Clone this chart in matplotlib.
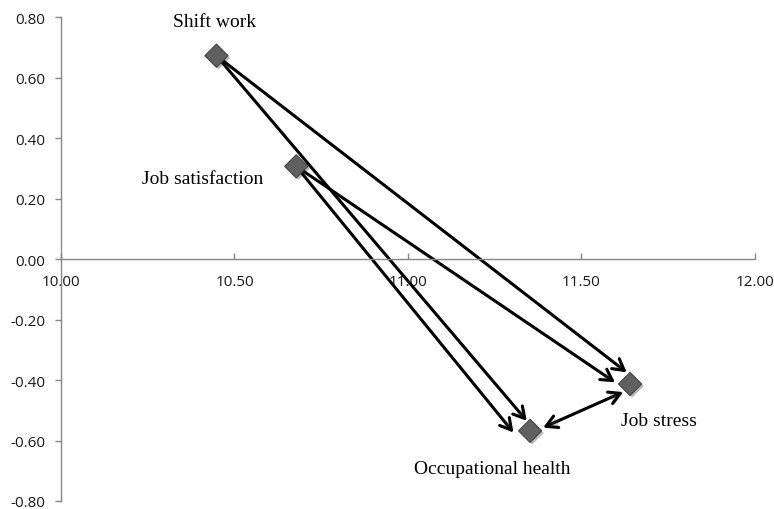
import matplotlib

matplotlib.use("Agg")
import matplotlib.pyplot as plt
import matplotlib.patheffects as pe
from matplotlib.transforms import offset_copy

# node positions
names = ["Shift work", "Job satisfaction", "Occupational health", "Job stress"]
x_vals = [10.448, 10.678, 11.352, 11.640]
y_vals = [0.673, 0.307, -0.568, -0.413]

# label offsets in points (dx, dy) and horizontal alignment
label_offsets = [(-1, 24.5), (-24, -9), (-27, -27), (21, -26)]
label_ha = ["center", "right", "center", "center"]

# paths: (source, target, arrow style, tail end offset pt, head end offset pt)
edges = [
    (0, 3, "->", (0, 0), (-2.4, 8.4)),
    (0, 2, "->", (0, 0), (-2.4, 7.2)),
    (1, 3, "->", (0, 0), (-10.8, 1.2)),
    (1, 2, "->", (0, 0), (-12.0, -1.2)),
    (2, 3, "<->", (9.4, 2.4), (-5.0, -5.8)),
]

x_ticks = [10.0, 10.5, 11.0, 11.5, 12.0]
y_ticks = [-0.8, -0.6, -0.4, -0.2, 0.0, 0.2, 0.4, 0.6, 0.8]

axis_color = "#868686"
shadow = [pe.SimplePatchShadow(offset=(1.2, -1.2), alpha=0.25), pe.Normal()]

fig = plt.figure(figsize=(7.74, 5.1), dpi=100)
ax = fig.add_axes([0.0788, 0.0157, 0.8966, 0.9484])

ax.set_xlim(10.0, 12.0)
ax.set_ylim(-0.8, 0.8)

for spine in ["top", "right"]:
    ax.spines[spine].set_visible(False)
ax.spines["bottom"].set_position(("data", 0.0))
ax.spines["left"].set_position(("data", 10.0))
for spine in ["left", "bottom"]:
    ax.spines[spine].set_color(axis_color)
    ax.spines[spine].set_linewidth(1.0)

ax.set_xticks(x_ticks)
ax.set_xticklabels([f"{v:.2f}" for v in x_ticks])
ax.set_yticks(y_ticks)
ax.set_yticklabels([f"{v:.2f}" for v in y_ticks])
ax.tick_params(axis="both", colors=axis_color, length=4.5, width=1.0,
               labelcolor="#1a1a1a", labelsize=11)
ax.tick_params(axis="x", direction="in", pad=11)
ax.tick_params(axis="y", direction="out", pad=7)
for lbl in ax.get_xticklabels() + ax.get_yticklabels():
    lbl.set_family("Open Sans")

for src, dst, style, tail_off, head_off in edges:
    ax.annotate(
        "",
        xy=(x_vals[dst], y_vals[dst]),
        xycoords=offset_copy(ax.transData, fig=fig, x=head_off[0], y=head_off[1], units="points"),
        xytext=(x_vals[src], y_vals[src]),
        textcoords=offset_copy(ax.transData, fig=fig, x=tail_off[0], y=tail_off[1], units="points"),
        arrowprops=dict(
            arrowstyle=f"{style},head_length=0.8,head_width=0.45",
            color="black",
            lw=2.2,
            shrinkA=0,
            shrinkB=0,
            mutation_scale=10,
            path_effects=shadow,
        ),
        zorder=2,
    )

ax.scatter(x_vals, y_vals, marker="D", s=140, color="#606060",
           edgecolor="#444444", linewidth=0.8, zorder=3,
           path_effects=[pe.SimplePatchShadow(offset=(1.5, -1.5), alpha=0.3), pe.Normal()])

for name, x, y, (dx, dy), ha in zip(names, x_vals, y_vals, label_offsets, label_ha):
    ax.annotate(name, xy=(x, y), xytext=(dx, dy), textcoords="offset points",
                ha=ha, va="center", fontsize=14, family="Liberation Serif")

fig.savefig("out.png", dpi=100)
